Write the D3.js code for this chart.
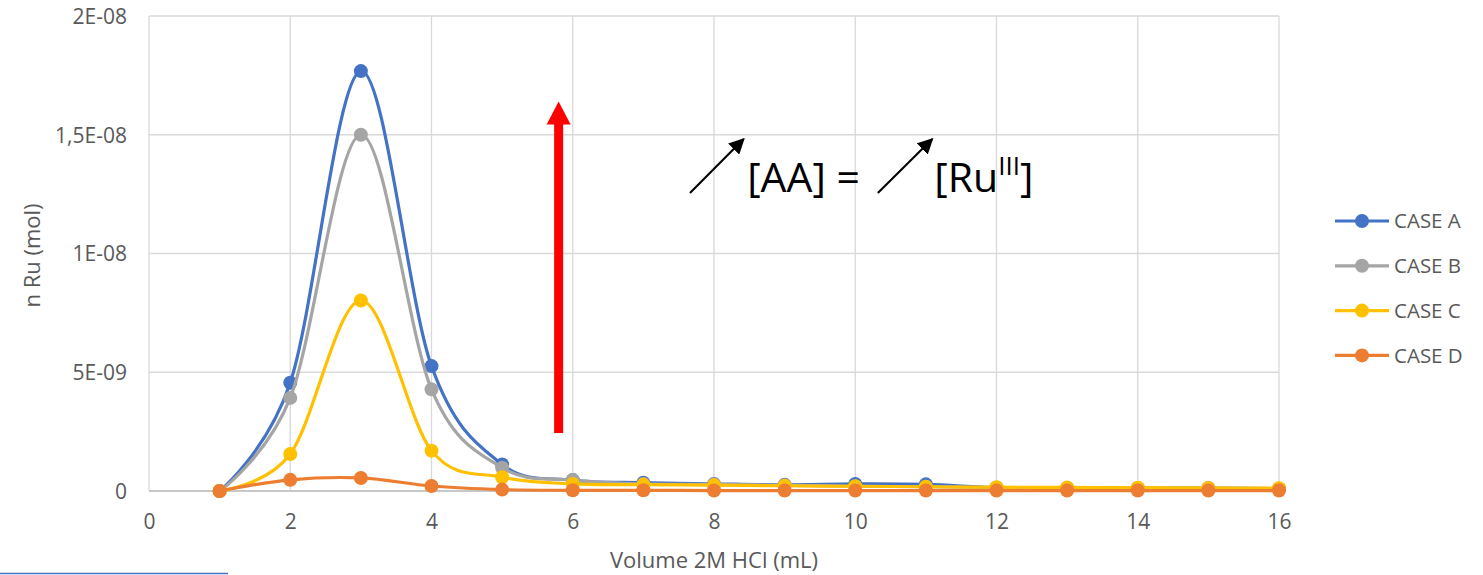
<!DOCTYPE html>
<html><head><meta charset="utf-8">
<script src="https://cdn.jsdelivr.net/npm/d3@7"></script>
<style>
html,body{margin:0;padding:0;background:#fff;}
svg{display:block;font-family:"Open Sans",sans-serif;}
</style></head>
<body><svg id="c" width="1483" height="575"></svg>
<script>
const volumes = [1,2,3,4,5,6,7,8,9,10,11,12,13,14,15,16];
const caseA = [0,4.56e-9,17.68e-9,5.26e-9,1.12e-9,0.46e-9,0.35e-9,0.30e-9,0.26e-9,0.30e-9,0.28e-9,0.14e-9,0.12e-9,0.12e-9,0.12e-9,0.10e-9];
const caseB = [0,3.92e-9,15.0e-9,4.28e-9,0.98e-9,0.46e-9,0.30e-9,0.27e-9,0.24e-9,0.20e-9,0.18e-9,0.14e-9,0.13e-9,0.12e-9,0.12e-9,0.10e-9];
const caseC = [0,1.56e-9,8.02e-9,1.70e-9,0.58e-9,0.30e-9,0.27e-9,0.25e-9,0.22e-9,0.20e-9,0.18e-9,0.16e-9,0.15e-9,0.14e-9,0.13e-9,0.12e-9];
const caseD = [0,0.47e-9,0.55e-9,0.21e-9,0.06e-9,0.03e-9,0.03e-9,0.02e-9,0.02e-9,0.02e-9,0.02e-9,0.02e-9,0.02e-9,0.02e-9,0.02e-9,0.02e-9];
const seriesNames = ["CASE A","CASE B","CASE C","CASE D"];
const seriesColors = ["#4472C4","#A5A5A5","#FFC000","#ED7D31"];
const xTicks = [0,2,4,6,8,10,12,14,16];
const yTicks = [0,5e-9,1e-8,1.5e-8,2e-8];
const yTickLabels = ["0","5E-09","1E-08","1,5E-08","2E-08"];
const xTitle = "Volume 2M HCl (mL)";
const yTitle = "n Ru (mol)";

const series = [caseA,caseB,caseC,caseD];
const svg = d3.select("#c");
const L=149, R=1279, T=16, B=491;
const x = d3.scaleLinear().domain([0,16]).range([L,R]);
const y = d3.scaleLinear().domain([0,2e-8]).range([B,T]);
const txt = "#595959", grid="#d9d9d9";

// gridlines
svg.append("g").selectAll("line").data(yTicks).join("line")
  .attr("x1",L).attr("x2",R).attr("y1",d=>y(d)).attr("y2",d=>y(d))
  .attr("stroke",grid).attr("stroke-width",1.3);
svg.append("g").selectAll("line").data(xTicks).join("line")
  .attr("x1",d=>x(d)).attr("x2",d=>x(d)).attr("y1",T).attr("y2",B)
  .attr("stroke",grid).attr("stroke-width",1.3);
svg.append("line").attr("x1",L).attr("x2",R).attr("y1",B).attr("y2",B).attr("stroke","#bfbfbf").attr("stroke-width",1.3);

// axes labels via d3 axes
const xAxis = svg.append("g").attr("transform",`translate(0,${B})`)
  .call(d3.axisBottom(x).tickValues(xTicks).tickSize(0).tickPadding(23).tickFormat(d3.format("d")));
const yAxis = svg.append("g").attr("transform",`translate(${L},0)`)
  .call(d3.axisLeft(y).tickValues(yTicks).tickSize(0).tickPadding(22).tickFormat((d,i)=>yTickLabels[i]));
[xAxis,yAxis].forEach(a=>{a.select(".domain").remove();
  a.selectAll("text").attr("fill",txt).style("font-size","21px").style("font-family","'Open Sans',sans-serif");});
yAxis.selectAll("text").attr("dy","0.35em");

svg.append("text").attr("x",(L+R)/2).attr("y",568).attr("text-anchor","middle")
  .attr("fill",txt).style("font-size","22px").text(xTitle);
svg.append("text").attr("transform",`translate(40,${(T+B)/2+2}) rotate(-90)`).attr("text-anchor","middle")
  .attr("fill",txt).style("font-size","22px").text(yTitle);

// series
const line = d3.line().x((d,i)=>x(volumes[i])).y(d=>y(d)).curve(d3.curveCardinal.tension(0));
series.forEach((s,k)=>{
  const g = svg.append("g");
  g.append("path").attr("d",line(s)).attr("fill","none").attr("stroke",seriesColors[k]).attr("stroke-width",3.2);
  g.selectAll("circle").data(s).join("circle").attr("cx",(d,i)=>x(volumes[i])).attr("cy",d=>y(d))
    .attr("r",7).attr("fill",seriesColors[k]);
});

// legend
const lg = svg.append("g");
seriesNames.forEach((n,k)=>{
  const yy = 221 + k*44.8;
  lg.append("line").attr("x1",1335).attr("x2",1389).attr("y1",yy).attr("y2",yy).attr("stroke",seriesColors[k]).attr("stroke-width",3.2);
  lg.append("circle").attr("cx",1362).attr("cy",yy).attr("r",7).attr("fill",seriesColors[k]);
  lg.append("text").attr("x",1394).attr("y",yy).attr("dy","0.35em").attr("fill",txt).style("font-size","20.5px").text(n);
});

// annotations
const defs = svg.append("defs");
defs.append("marker").attr("id","blk").attr("viewBox","0 0 10 10").attr("refX",9).attr("refY",5)
  .attr("markerWidth",7.5).attr("markerHeight",7.5).attr("orient","auto").attr("markerUnits","strokeWidth")
  .append("path").attr("d","M0,0 L10,5 L0,10 Z").attr("fill","#000");

// red arrow
const rx = x(5.8), ry0 = y(2.44e-9), ry1 = y(16.4e-9);
svg.append("rect").attr("x",rx-4.5).attr("y",ry1+20).attr("width",9).attr("height",ry0-ry1-20).attr("fill","#FF0000");
svg.append("path").attr("d",`M${rx},${ry1} L${rx+12},${ry1+23} L${rx-12},${ry1+23} Z`).attr("fill","#FF0000");

// black arrows
[[7.66,8.42],[10.32,11.09]].forEach(([a,b])=>{
  svg.append("line").attr("x1",x(a)).attr("y1",y(12.55e-9)).attr("x2",x(b)).attr("y2",y(14.82e-9))
    .attr("stroke","#000").attr("stroke-width",2.1).attr("marker-end","url(#blk)");
});
svg.append("text").attr("x",x(8.47)).attr("y",y(12.6e-9)).attr("fill","#000").style("font-size","41px").text("[AA] =");
const t2 = svg.append("text").attr("x",x(11.12)).attr("y",y(12.6e-9)).attr("fill","#000").style("font-size","41px");
t2.append("tspan").text("[Ru");
t2.append("tspan").attr("dy",-17).style("font-size","26px").text("III");
t2.append("tspan").attr("dy",17).text("]");

// stray blue underline
svg.append("line").attr("x1",0).attr("x2",228).attr("y1",573.5).attr("y2",573.5).attr("stroke","#4472C4").attr("stroke-width",1.5);
</script></body></html>
